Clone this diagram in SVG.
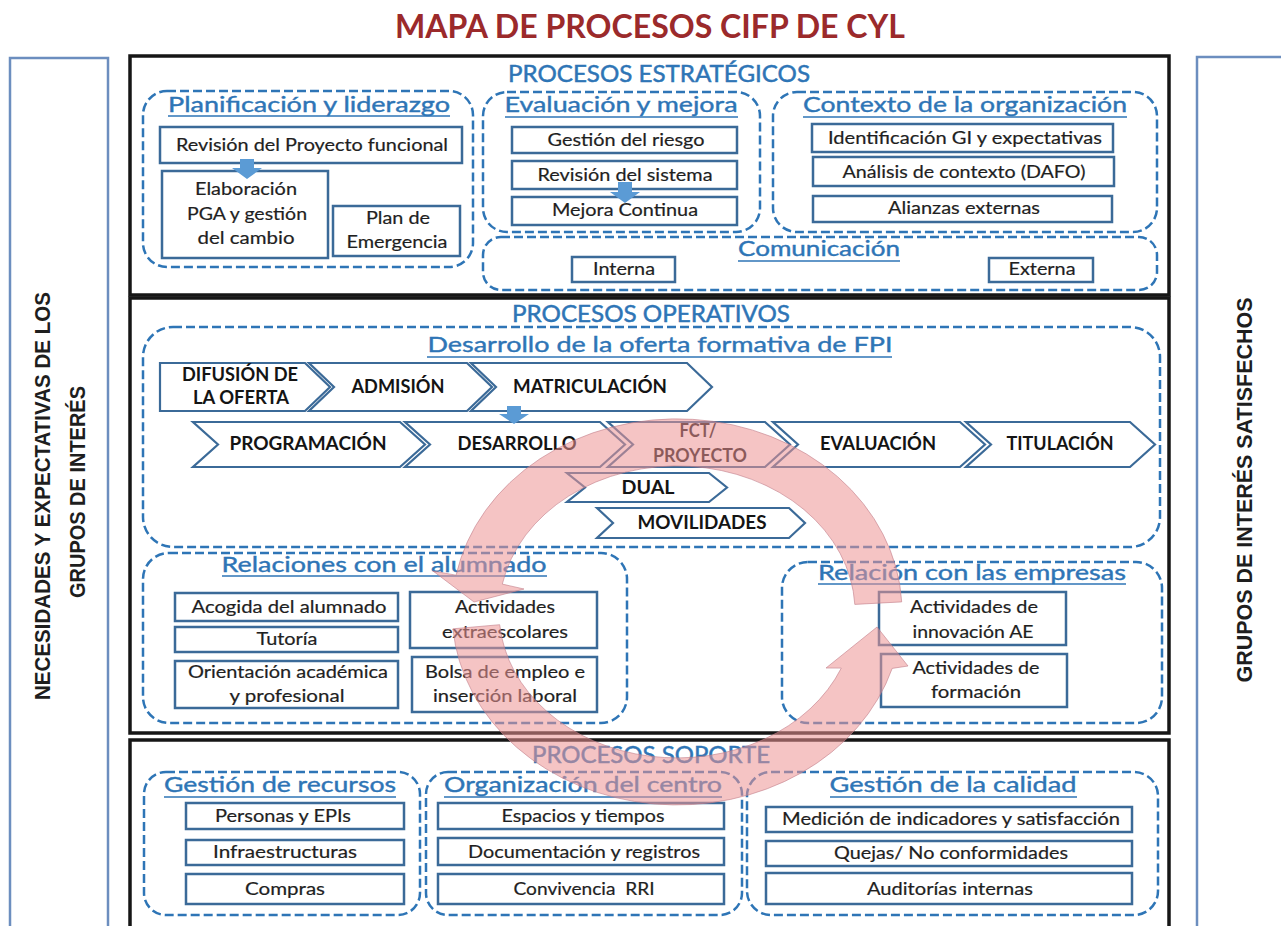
<svg xmlns="http://www.w3.org/2000/svg" width="1281" height="926" viewBox="0 0 1281 926">
<style>
.bg{fill:#ffffff}
.title{font-family:Lato,"Liberation Sans",sans-serif;font-weight:bold;font-size:33px;fill:#9B2A2B;text-anchor:middle}
.side{font-family:"Liberation Sans",Arial,sans-serif;font-weight:bold;font-size:22px;fill:#1e1e1e;text-anchor:middle}
.panel{fill:#ffffff;stroke:#6C8EBF;stroke-width:2.5}
.sec{fill:#ffffff;stroke:#161616;stroke-width:3.5}
.sech{font-family:Lato,"Liberation Sans",sans-serif;font-size:24px;fill:#2E75B6;stroke:#2E75B6;stroke-width:0.5;text-anchor:middle}
.grp{fill:none;stroke:#2E75B6;stroke-width:2.5;stroke-dasharray:9 4}
.gt{font-family:Lato,"Liberation Sans",sans-serif;font-size:22px;fill:#2E75B6;stroke:#2E75B6;stroke-width:0.4;text-anchor:middle}
.ul{stroke:#2E75B6;stroke-width:1.6}
.box{fill:#ffffff;stroke:#3B6A98;stroke-width:2.5}
.bt{font-family:Lato,"Liberation Sans",sans-serif;font-size:17px;fill:#1f1f1f;stroke:#1f1f1f;stroke-width:0.2;text-anchor:middle}
.chev{fill:#ffffff;stroke:#3B6A98;stroke-width:2.2}
.ct{font-family:Lato,"Liberation Sans",sans-serif;font-weight:bold;font-size:18px;fill:#141414;text-anchor:middle}
.barrow{fill:#5B9BD5}
.ring{fill:#EC9494;fill-opacity:0.55;stroke:#C27F8A;stroke-opacity:0.6;stroke-width:1}
</style>
<rect class="bg" x="0" y="0" width="1281" height="926"/>

<text class="title" x="650" y="38" textLength="510" lengthAdjust="spacingAndGlyphs">MAPA DE PROCESOS CIFP DE CYL</text>

<g id="panel-left">
<rect class="panel" x="10" y="58" width="98" height="880"/>
<text class="side" transform="translate(50,496) rotate(-90)" textLength="408" lengthAdjust="spacingAndGlyphs">NECESIDADES Y EXPECTATIVAS DE LOS</text>
<text class="side" transform="translate(85,492) rotate(-90)" textLength="212" lengthAdjust="spacingAndGlyphs">GRUPOS DE INTERÉS</text>
</g>
<g id="panel-right">
<rect class="panel" x="1197" y="57" width="100" height="880"/>
<text class="side" transform="translate(1252,490) rotate(-90)" textLength="385" lengthAdjust="spacingAndGlyphs">GRUPOS DE INTERÉS SATISFECHOS</text>
</g>

<!-- ESTRATEGICOS -->
<g id="procesos-estrategicos">
<rect class="sec" x="130" y="56" width="1039" height="239"/>
<text class="sech" x="659" y="82" textLength="302" lengthAdjust="spacingAndGlyphs">PROCESOS ESTRATÉGICOS</text>
</g>
<g id="planificacion">
<rect class="grp" x="143" y="91" width="330" height="176" rx="24"/>
<text class="gt" x="309" y="112" textLength="282" lengthAdjust="spacingAndGlyphs">Planificación y liderazgo</text>
<line class="ul" x1="168" y1="116" x2="450" y2="116"/>
</g>
<g id="revision-proyecto"><rect class="box" x="160" y="127" width="302" height="36"/><text class="bt" x="312" y="151" textLength="272" lengthAdjust="spacingAndGlyphs">Revisión del Proyecto funcional</text></g>
<g id="elaboracion-pga"><rect class="box" x="162" y="171" width="166" height="87"/>
<text class="bt" x="246" y="195" textLength="102" lengthAdjust="spacingAndGlyphs">Elaboración</text>
<text class="bt" x="247" y="220" textLength="120" lengthAdjust="spacingAndGlyphs">PGA y gestión</text>
<text class="bt" x="246" y="244" textLength="97" lengthAdjust="spacingAndGlyphs">del cambio</text></g>
<g id="plan-emergencia"><rect class="box" x="333" y="206" width="127" height="50"/>
<text class="bt" x="398" y="224" textLength="64" lengthAdjust="spacingAndGlyphs">Plan de</text>
<text class="bt" x="397" y="248" textLength="101" lengthAdjust="spacingAndGlyphs">Emergencia</text></g>

<g id="evaluacion-mejora">
<rect class="grp" x="483" y="92" width="277" height="140" rx="24"/>
<text class="gt" x="621" y="112" textLength="233" lengthAdjust="spacingAndGlyphs">Evaluación y mejora</text>
<line class="ul" x1="505" y1="117" x2="738" y2="117"/>
</g>
<g id="gestion-riesgo"><rect class="box" x="512" y="127" width="225" height="26"/><text class="bt" x="626" y="146" textLength="157" lengthAdjust="spacingAndGlyphs">Gestión del riesgo</text></g>
<g id="revision-sistema"><rect class="box" x="512" y="161" width="225" height="28"/><text class="bt" x="625" y="181" textLength="175" lengthAdjust="spacingAndGlyphs">Revisión del sistema</text></g>
<g id="mejora-continua"><rect class="box" x="512" y="197" width="225" height="28"/><text class="bt" x="625" y="216" textLength="146" lengthAdjust="spacingAndGlyphs">Mejora Continua</text></g>

<g id="contexto">
<rect class="grp" x="773" y="92" width="384" height="140" rx="24"/>
<text class="gt" x="965" y="112" textLength="324" lengthAdjust="spacingAndGlyphs">Contexto de la organización</text>
<line class="ul" x1="803" y1="117" x2="1127" y2="117"/>
</g>
<g id="identificacion-gi"><rect class="box" x="812" y="124" width="301" height="28"/><text class="bt" x="965" y="144" textLength="274" lengthAdjust="spacingAndGlyphs">Identificación GI y expectativas</text></g>
<g id="analisis-contexto"><rect class="box" x="813" y="157" width="301" height="29"/><text class="bt" x="964" y="178" textLength="243" lengthAdjust="spacingAndGlyphs">Análisis de contexto (DAFO)</text></g>
<g id="alianzas"><rect class="box" x="813" y="196" width="299" height="26"/><text class="bt" x="964" y="214" textLength="152" lengthAdjust="spacingAndGlyphs">Alianzas externas</text></g>

<g id="comunicacion">
<rect class="grp" x="483" y="237" width="674" height="53" rx="18"/>
<text class="gt" x="819" y="256" textLength="162" lengthAdjust="spacingAndGlyphs">Comunicación</text>
<line class="ul" x1="738" y1="261" x2="900" y2="261"/>
</g>
<g id="interna"><rect class="box" x="572" y="257" width="103" height="25"/><text class="bt" x="624" y="275" textLength="62" lengthAdjust="spacingAndGlyphs">Interna</text></g>
<g id="externa"><rect class="box" x="989" y="258" width="104" height="24"/><text class="bt" x="1042" y="275" textLength="67" lengthAdjust="spacingAndGlyphs">Externa</text></g>

<!-- OPERATIVOS -->
<g id="procesos-operativos">
<rect class="sec" x="130" y="298" width="1039" height="435"/>
<text class="sech" x="651" y="322" textLength="278" lengthAdjust="spacingAndGlyphs">PROCESOS OPERATIVOS</text>
</g>
<g id="desarrollo-oferta">
<rect class="grp" x="143" y="327" width="1017" height="220" rx="30"/>
<text class="gt" x="660" y="352" textLength="465" lengthAdjust="spacingAndGlyphs">Desarrollo de la oferta formativa de FPI</text>
<line class="ul" x1="427" y1="357" x2="892" y2="357"/>
</g>
<g id="difusion"><path class="chev" d="M160 363 L305 363 L330 387 L305 411 L160 411 Z"/>
<text class="ct" x="240" y="381" textLength="116" lengthAdjust="spacingAndGlyphs">DIFUSIÓN DE</text>
<text class="ct" x="241" y="404" textLength="96" lengthAdjust="spacingAndGlyphs">LA OFERTA</text></g>
<g id="admision"><path class="chev" d="M309 363 L467 363 L492 387 L467 411 L309 411 L334 387 Z"/>
<text class="ct" x="398" y="393" textLength="93" lengthAdjust="spacingAndGlyphs">ADMISIÓN</text></g>
<g id="matriculacion"><path class="chev" d="M471 363 L687 363 L712 387 L687 411 L471 411 L496 387 Z"/>
<text class="ct" x="590" y="393" textLength="154" lengthAdjust="spacingAndGlyphs">MATRICULACIÓN</text></g>
<g id="programacion"><path class="chev" d="M193 422 L400 422 L425 444.5 L400 467 L193 467 L218 444.5 Z"/>
<text class="ct" x="308" y="450" textLength="157" lengthAdjust="spacingAndGlyphs">PROGRAMACIÓN</text></g>
<g id="desarrollo"><path class="chev" d="M405 422 L600 422 L625 444.5 L600 467 L405 467 L430 444.5 Z"/>
<text class="ct" x="517" y="450" textLength="119" lengthAdjust="spacingAndGlyphs">DESARROLLO</text></g>
<g id="fct-proyecto"><path class="chev" d="M608 422 L765 422 L790 444.5 L765 467 L608 467 L633 444.5 Z"/>
<text class="ct" x="698" y="437" textLength="37" lengthAdjust="spacingAndGlyphs">FCT/</text>
<text class="ct" x="700" y="462" textLength="94" lengthAdjust="spacingAndGlyphs">PROYECTO</text></g>
<g id="evaluacion"><path class="chev" d="M773 422 L960 422 L985 444.5 L960 467 L773 467 L798 444.5 Z"/>
<text class="ct" x="878" y="450" textLength="116" lengthAdjust="spacingAndGlyphs">EVALUACIÓN</text></g>
<g id="titulacion"><path class="chev" d="M966 422 L1130 422 L1155 444.5 L1130 467 L966 467 L991 444.5 Z"/>
<text class="ct" x="1060" y="450" textLength="107" lengthAdjust="spacingAndGlyphs">TITULACIÓN</text></g>
<g id="dual"><path class="chev" d="M567 473 L709 473 L727 487.5 L709 502 L567 502 L585 487.5 Z"/>
<text class="ct" x="648" y="494" textLength="53" lengthAdjust="spacingAndGlyphs">DUAL</text></g>
<g id="movilidades"><path class="chev" d="M597 508 L789 508 L805 523 L789 538 L597 538 L613 523 Z"/>
<text class="ct" x="702" y="529" font-size="16" textLength="129" lengthAdjust="spacingAndGlyphs">MOVILIDADES</text></g>

<g id="relaciones-alumnado">
<rect class="grp" x="143" y="553" width="484" height="170" rx="26"/>
<text class="gt" x="384" y="572" textLength="325" lengthAdjust="spacingAndGlyphs">Relaciones con el alumnado</text>
<line class="ul" x1="222" y1="576" x2="547" y2="576"/>
</g>
<g id="acogida"><rect class="box" x="175" y="593" width="223" height="28"/><text class="bt" x="289" y="613" textLength="195" lengthAdjust="spacingAndGlyphs">Acogida del alumnado</text></g>
<g id="tutoria"><rect class="box" x="175" y="627" width="223" height="25"/><text class="bt" x="287" y="645" textLength="61" lengthAdjust="spacingAndGlyphs">Tutoría</text></g>
<g id="orientacion"><rect class="box" x="175" y="661" width="223" height="47"/>
<text class="bt" x="288" y="678" textLength="200" lengthAdjust="spacingAndGlyphs">Orientación académica</text>
<text class="bt" x="287" y="702" textLength="115" lengthAdjust="spacingAndGlyphs">y profesional</text></g>
<g id="extraescolares"><rect class="box" x="410" y="592" width="187" height="56"/>
<text class="bt" x="505" y="613" textLength="100" lengthAdjust="spacingAndGlyphs">Actividades</text>
<text class="bt" x="505" y="638" textLength="126" lengthAdjust="spacingAndGlyphs">extraescolares</text></g>
<g id="bolsa-empleo"><rect class="box" x="412" y="657" width="185" height="55"/>
<text class="bt" x="505" y="678" textLength="160" lengthAdjust="spacingAndGlyphs">Bolsa de empleo e</text>
<text class="bt" x="505" y="702" textLength="144" lengthAdjust="spacingAndGlyphs">inserción laboral</text></g>

<g id="relacion-empresas">
<rect class="grp" x="782" y="562" width="380" height="161" rx="26"/>
<text class="gt" x="972" y="580" textLength="308" lengthAdjust="spacingAndGlyphs">Relación con las empresas</text>
<line class="ul" x1="818" y1="584" x2="1126" y2="584"/>
</g>
<g id="innovacion"><rect class="box" x="879" y="592" width="187" height="53"/>
<text class="bt" x="974" y="613" textLength="128" lengthAdjust="spacingAndGlyphs">Actividades de</text>
<text class="bt" x="973" y="638" textLength="121" lengthAdjust="spacingAndGlyphs">innovación AE</text></g>
<g id="formacion"><rect class="box" x="881" y="654" width="186" height="53"/>
<text class="bt" x="976" y="674" textLength="127" lengthAdjust="spacingAndGlyphs">Actividades de</text>
<text class="bt" x="976" y="698" textLength="90" lengthAdjust="spacingAndGlyphs">formación</text></g>

<!-- SOPORTE -->
<g id="procesos-soporte">
<rect class="sec" x="130" y="740" width="1039" height="200"/>
<text class="sech" x="651" y="763" textLength="238" lengthAdjust="spacingAndGlyphs">PROCESOS SOPORTE</text>
</g>
<g id="gestion-recursos">
<rect class="grp" x="144" y="772" width="276" height="143" rx="22"/>
<text class="gt" x="280" y="792" textLength="232" lengthAdjust="spacingAndGlyphs">Gestión de recursos</text>
<line class="ul" x1="164" y1="797" x2="396" y2="797"/>
</g>
<g id="personas"><rect class="box" x="186" y="803" width="218" height="26"/><text class="bt" x="283" y="822" textLength="136" lengthAdjust="spacingAndGlyphs">Personas y EPIs</text></g>
<g id="infraestructuras"><rect class="box" x="186" y="840" width="218" height="25"/><text class="bt" x="285" y="858" textLength="144" lengthAdjust="spacingAndGlyphs">Infraestructuras</text></g>
<g id="compras"><rect class="box" x="186" y="874" width="218" height="30"/><text class="bt" x="285" y="895" textLength="80" lengthAdjust="spacingAndGlyphs">Compras</text></g>

<g id="organizacion-centro">
<rect class="grp" x="426" y="772" width="316" height="143" rx="22"/>
<text class="gt" x="583" y="792" textLength="278" lengthAdjust="spacingAndGlyphs">Organización del centro</text>
<line class="ul" x1="444" y1="797" x2="722" y2="797"/>
</g>
<g id="espacios"><rect class="box" x="438" y="803" width="286" height="26"/><text class="bt" x="583" y="822" textLength="163" lengthAdjust="spacingAndGlyphs">Espacios y tiempos</text></g>
<g id="documentacion"><rect class="box" x="438" y="838" width="286" height="27"/><text class="bt" x="584" y="858" textLength="232" lengthAdjust="spacingAndGlyphs">Documentación y registros</text></g>
<g id="convivencia"><rect class="box" x="438" y="874" width="286" height="30"/><text class="bt" x="584" y="895" textLength="141" lengthAdjust="spacingAndGlyphs" xml:space="preserve">Convivencia  RRI</text></g>

<g id="gestion-calidad">
<rect class="grp" x="747" y="772" width="411" height="143" rx="24"/>
<text class="gt" x="953" y="792" textLength="247" lengthAdjust="spacingAndGlyphs">Gestión de la calidad</text>
<line class="ul" x1="830" y1="797" x2="1077" y2="797"/>
</g>
<g id="medicion"><rect class="box" x="766" y="807" width="366" height="25"/><text class="bt" x="951" y="825" textLength="338" lengthAdjust="spacingAndGlyphs">Medición de indicadores y satisfacción</text></g>
<g id="quejas"><rect class="box" x="766" y="841" width="366" height="25"/><text class="bt" x="951" y="859" textLength="234" lengthAdjust="spacingAndGlyphs">Quejas/ No conformidades</text></g>
<g id="auditorias"><rect class="box" x="766" y="873" width="366" height="31"/><text class="bt" x="950" y="895" textLength="166" lengthAdjust="spacingAndGlyphs">Auditorías internas</text></g>

<!-- connectors -->
<g id="connectors">
<path class="barrow" d="M240 159 L254 159 L254 168 L262 168 L247 179 L232 168 L240 168 Z"/>
<path class="barrow" d="M618 182 L632 182 L632 192 L640 192 L625 203 L610 192 L618 192 Z"/>
<path class="barrow" d="M507 406 L521 406 L521 414 L529 414 L514 424 L499 414 L507 414 Z"/>
</g>

<g id="ciclo-mejora">
<path class="ring" d="M901.7 601.9 A225 193 0 0 0 456.1 575.2 L433 571 L474 602 L524 589 L502.3 584.1 A178 146 0 0 1 854.8 604.4 Z"/>
<path class="ring" d="M452.9 628.8 A225 193 0 0 0 892.2 668.4 L908 666 L877 627 L826 668 L841.3 668.1 A178 146 0 0 1 499.7 624.7 Z"/>
</g>
</svg>
